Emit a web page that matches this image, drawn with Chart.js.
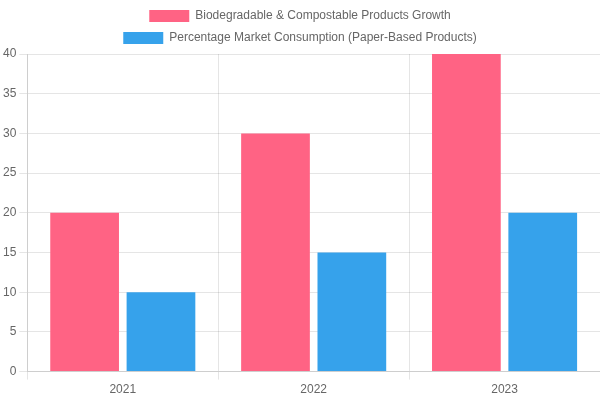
<!DOCTYPE html>
<html>
<head>
<meta charset="utf-8">
<script src="https://cdn.jsdelivr.net/npm/chart.js@4"></script>
<style>
  html, body { margin: 0; padding: 0; background: #fff; }
  #wrap { width: 600px; height: 400px; }
</style>
</head>
<body>
<div id="wrap"><canvas id="grafico"></canvas></div>
<script>
const years = ['2021', '2022', '2023'];
const growth = [20, 30, 40];
const paperShare = [10, 15, 20];

const ctx = document.getElementById('grafico').getContext('2d');

new Chart(ctx, {
  type: 'bar',
  data: {
    labels: years,
    datasets: [{
      label: 'Biodegradable & Compostable Products Growth',
      data: growth,
      backgroundColor: '#ff6384'
    }, {
      label: 'Percentage Market Consumption (Paper-Based Products)',
      data: paperShare,
      backgroundColor: '#36a2eb'
    }]
  },
  options: {
    responsive: true,
    maintainAspectRatio: false,
    animation: false,
    plugins: {
      legend: { position: 'top' }
    },
    scales: {
      y: { beginAtZero: true }
    }
  }
});
</script>
</body>
</html>
